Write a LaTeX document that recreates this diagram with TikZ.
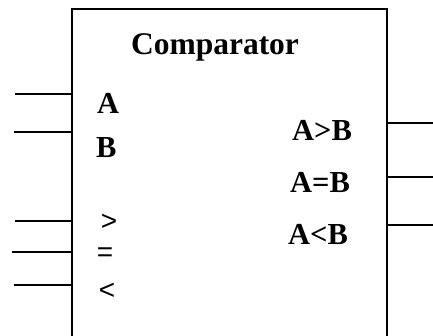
\documentclass[tikz,border=0pt]{standalone}
\usepackage{fontspec}
\setmainfont{Liberation Serif}
\newfontfamily\symfont{Liberation Sans}
\begin{document}
\begin{tikzpicture}[x=1pt,y=1pt,
  wire/.style={line width=1.6pt},
  boxline/.style={line width=1.9pt},
  lbl/.style={inner sep=0pt,anchor=base west,font=\fontsize{30.5}{30.5}\selectfont\bfseries},
  sym/.style={inner sep=0pt,font=\fontsize{28}{28}\selectfont\symfont}]
\useasboundingbox (0,0) rectangle (433,-335);
\clip (0,0) rectangle (433,-335);
% block body (runs past the lower edge)
\node[draw,boxline,rectangle,inner sep=0pt,minimum width=315pt,minimum height=360pt,anchor=north west] (cmp) at (71,-8) {};
\node[inner sep=0pt,anchor=base,font=\fontsize{31.5}{31.5}\selectfont\bfseries] (title) at (215,-54) {Comparator};
% input labels
\node[lbl] (la) at (97,-113) {A};
\node[lbl] (lb) at (96,-157) {B};
\node[sym] (lgt) at (109,-222) {>};
\node[sym] (leq) at (105,-255) {=};
\node[sym] (llt) at (107,-291) {<};
% output labels
\node[lbl] (ogt) at (292,-140) {A>B};
\node[lbl] (oeq) at (290,-192) {A=B};
\node[lbl] (olt) at (288,-244) {A<B};
% wire ends
\coordinate (ia) at (15,-94);
\coordinate (ib) at (14,-132);
\coordinate (igt) at (15,-221);
\coordinate (ieq) at (12,-252);
\coordinate (ilt) at (14,-285);
\coordinate (qgt) at (433,-123);
\coordinate (qeq) at (433,-177);
\coordinate (qlt) at (433,-225);
% input wires
\foreach \p in {ia,ib,igt,ieq,ilt}
  \draw[wire] (\p) -- (\p -| cmp.west);
% output wires
\foreach \p in {qgt,qeq,qlt}
  \draw[wire] (\p -| cmp.east) -- (\p);
\end{tikzpicture}
\end{document}
